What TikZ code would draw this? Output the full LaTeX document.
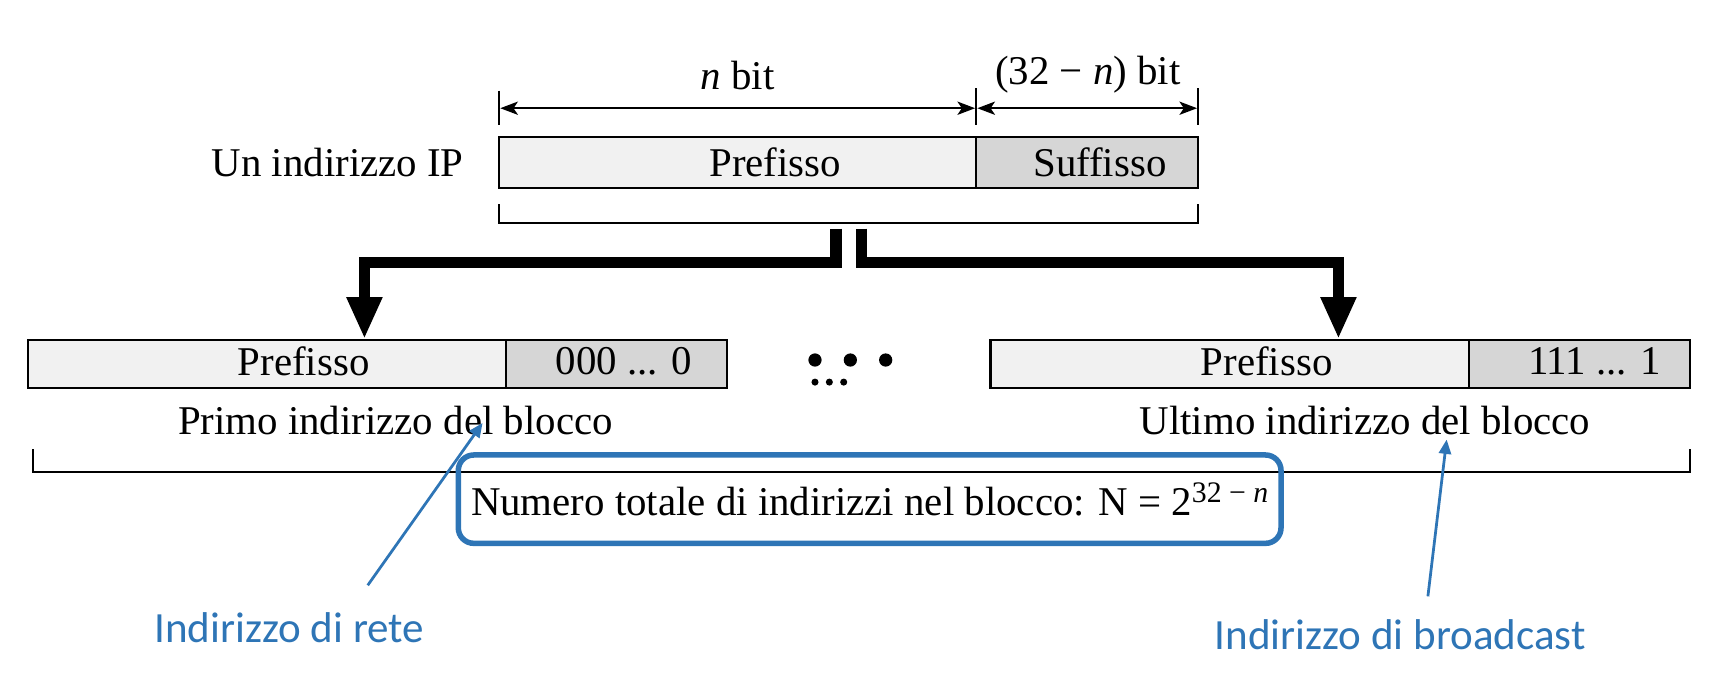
\documentclass[tikz,border=0pt]{standalone}
\usepackage{fontspec}
\setmainfont{Liberation Serif}
\newfontfamily\bluefont{Carlito}
\usetikzlibrary{arrows.meta}
\definecolor{ublue}{RGB}{46,117,182}
\definecolor{lgray}{RGB}{241,241,241}
\definecolor{dgray}{RGB}{214,214,214}
\begin{document}
\begin{tikzpicture}[x=1pt,y=-1pt,
  txt/.style={font=\fontsize{37}{44}\selectfont, inner sep=0pt},
  pbox/.style={draw=black, line width=2pt, fill=lgray, inner sep=0pt},
  sbox/.style={draw=black, line width=2pt, fill=dgray, inner sep=0pt},
  dimline/.style={line width=1.8pt, {Stealth[length=16pt,width=12pt,inset=4pt]}-{Stealth[length=16pt,width=12pt,inset=4pt]}},
  tick/.style={line width=1.8pt},
  brace/.style={line width=1.8pt},
  thickarrow/.style={line width=10pt, -{Triangle[width=30pt,length=38pt]}},
  bluearrow/.style={draw=ublue, line width=2.5pt, -{Triangle[width=11pt,length=13pt]}},
  bluetxt/.style={font=\bluefont\fontsize{39}{46}\selectfont, text=ublue, inner sep=0pt},
  dot/.style={fill=black}
]
\useasboundingbox (0,0) rectangle (1572,628.5);

% top address
\node[txt, anchor=east] (ip) at (420,147) {Un indirizzo IP};
\node[pbox, minimum width=432pt, minimum height=46pt] (tp) at (668,147) {};
\node[sbox, minimum width=201pt, minimum height=46pt] (ts) at (984.5,147) {};
\node[txt] (tpt) at (702,147) {Prefisso};
\node[txt] (tst) at (996,147) {Suffisso};

% dimension lines
\coordinate (d1t) at (452,82);
\coordinate (d1b) at (452,113);
\coordinate (d2t) at (884,80);
\coordinate (d2b) at (884,113);
\coordinate (d3t) at (1085,80);
\coordinate (d3b) at (1085,113);
\draw[tick] (d1t) -- (d1b);
\draw[tick] (d2t) -- (d2b);
\draw[tick] (d3t) -- (d3b);
\coordinate (a1) at (453,98);
\coordinate (a2) at (883,98);
\coordinate (a3) at (885,98);
\coordinate (a4) at (1084,98);
\draw[dimline] (a1) -- (a2);
\draw[dimline] (a3) -- (a4);
\node[txt] (nbit) at (668,68) {\textit{n} bit};
\node[txt] (sbit) at (985,68) {(32 − \textit{n}) bit};

% bracket under top address
\coordinate (b1) at (452,185);
\coordinate (b1c) at (452,202);
\coordinate (b2c) at (1085,202);
\coordinate (b2) at (1085,185);
\draw[brace] (b1) -- (b1c) -- (b2c) -- (b2);

% bottom addresses
\node[pbox, minimum width=433pt, minimum height=43pt] (lp) at (241.5,329.5) {};
\node[sbox, minimum width=200pt, minimum height=43pt] (ls) at (558,329.5) {};
\node[txt] (lpt) at (275,327) {Prefisso};
\node[txt] (lst) at (565,327) {000 ... 0};
\node[pbox, minimum width=433pt, minimum height=43pt] (rp) at (1113.5,329.5) {};
\node[sbox, minimum width=200pt, minimum height=43pt] (rs) at (1430,329.5) {};
\node[txt] (rpt) at (1147,327) {Prefisso};
\node[txt] (rst) at (1444,327) {111 ... 1};

\node[txt] (first) at (358,381) {Primo indirizzo del blocco};
\node[txt] (last) at (1236,381) {Ultimo indirizzo del blocco};

% dots
\fill[dot] (738,326) circle (6pt);
\fill[dot] (770,326) circle (6pt);
\fill[dot] (802,326) circle (6pt);
\fill[dot] (738,346) circle (3.2pt);
\fill[dot] (751,346) circle (3.2pt);
\fill[dot] (764,346) circle (3.2pt);

% thick arrows
\coordinate (jl) at (757,207);
\coordinate (jr) at (780,207);
\coordinate (cl) at (330,238);
\coordinate (cr) at (1212,238);
\draw[thickarrow] (jl) |- (cl) -- (lp.north -| cl);
\draw[thickarrow] (jr) |- (cr) -- (rp.north -| cr);

% big bracket
\coordinate (B1) at (30,407);
\coordinate (B1c) at (30,427);
\coordinate (B2c) at (1530,427);
\coordinate (B2) at (1530,407);
\draw[brace] (B1) -- (B1c) -- (B2c) -- (B2);

% total formula
\node[txt, draw=ublue, line width=5pt, rounded corners=14pt,
      minimum width=745pt, minimum height=80pt] (tot) at (787.5,452)
  {Numero totale di indirizzi nel blocco: N = 2\raisebox{12pt}{\fontsize{27}{30}\selectfont 32 − \textit{n}}};

% blue annotations
\node[bluetxt] (rete) at (262,568) {Indirizzo di rete};
\node[bluetxt] (bcast) at (1268,575) {Indirizzo di broadcast};
\coordinate (rs0) at (333,530);
\coordinate (rs1) at (437,383);
\coordinate (bs0) at (1293,540);
\coordinate (bs1) at (1310,398);
\draw[bluearrow] (rs0) -- (rs1);
\draw[bluearrow] (bs0) -- (bs1);
\end{tikzpicture}
\end{document}
